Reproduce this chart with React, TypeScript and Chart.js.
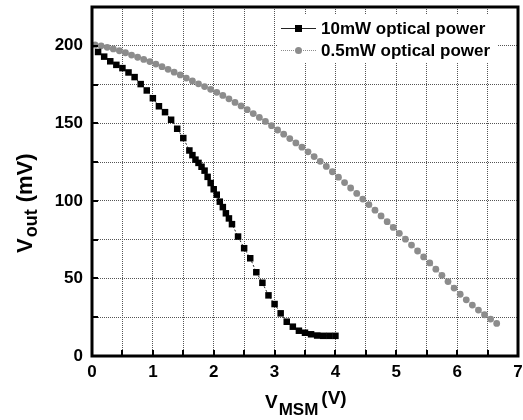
import { useEffect, useRef } from 'react';
import { Chart, registerables } from 'chart.js';
Chart.register(...registerables);

// 10 mW optical power (black squares)
const xHigh = [0.1, 0.2, 0.3, 0.4, 0.5, 0.6, 0.7, 0.8, 0.9, 1.0, 1.1, 1.2, 1.3, 1.4, 1.5,
  1.6, 1.65, 1.7, 1.75, 1.8, 1.85, 1.9, 1.95, 2.0, 2.05, 2.1, 2.15, 2.2, 2.25, 2.3,
  2.4, 2.5, 2.6, 2.7, 2.8, 2.9, 3.0, 3.1, 3.2, 3.3, 3.4, 3.5, 3.6, 3.7, 3.8, 3.9, 4.0];
const yHigh = [196, 193, 190, 187.7, 185.6, 182.8, 179.8, 175.3, 171.2, 166.2, 161, 157.2, 152.3, 146.5, 140.5,
  132.5, 129.5, 126.6, 124.5, 122, 119.5, 115.5, 111.5, 107.5, 104, 99.5, 96, 92, 88.7, 85,
  77, 69.5, 63, 54, 47.2, 39.1, 33.5, 27.5, 22.1, 18.9, 16.3, 15, 14, 13.2, 13, 13, 13];

// 0.5 mW optical power (grey circles)
const xLow = [0.05, 0.15, 0.25, 0.35, 0.45, 0.55, 0.65, 0.75, 0.85, 0.95,
  1.05, 1.15, 1.25, 1.35, 1.45, 1.55, 1.65, 1.75, 1.85, 1.95,
  2.05, 2.15, 2.25, 2.35, 2.45, 2.55, 2.65, 2.75, 2.85, 2.95,
  3.05, 3.15, 3.25, 3.35, 3.45, 3.55, 3.65, 3.75, 3.85, 3.95,
  4.05, 4.15, 4.25, 4.35, 4.45, 4.55, 4.65, 4.75, 4.85, 4.95,
  5.05, 5.15, 5.25, 5.35, 5.45, 5.55, 5.65, 5.75, 5.85, 5.95,
  6.05, 6.15, 6.25, 6.35, 6.45, 6.55, 6.65];
const yLow = [200.5, 200, 199, 198, 196.8, 195.5, 194, 192.6, 191.2, 189.8,
  188.2, 186.5, 184.8, 183, 181.2, 179.2, 177.3, 175.5, 173.7, 171.9,
  170, 168, 165.8, 163.5, 161.2, 158.8, 156.3, 153.8, 151.2, 148.5,
  145.7, 143, 140.2, 137.4, 134.6, 131.6, 128.6, 125.5, 122.2, 118.8,
  115.3, 111.8, 108.3, 104.8, 101.2, 97.6, 94, 90.3, 86.6, 82.9,
  79.1, 75.3, 71.5, 67.7, 63.9, 60, 56, 52, 48, 43.8,
  39.8, 36.2, 32.8, 29.6, 26.6, 23.8, 21];

const xTickLabels = ['0', '1', '2', '3', '4', '5', '6', '7'];
const yTickLabels = ['0', '50', '100', '150', '200'];
const legendLabels = ['10mW optical power', '0.5mW optical power'];

const FONT = "'Liberation Sans', Arial, Helvetica, sans-serif";
const GREY = '#8c8c8c';

export default function App() {
  const ref = useRef<HTMLCanvasElement>(null);

  useEffect(() => {
    const canvas = ref.current!;
    const decor = {
      id: 'decor',
      afterDatasetsDraw(chart: any) {
        const { ctx, chartArea: a, scales } = chart;
        ctx.save();
        // inward ticks
        ctx.strokeStyle = '#000';
        ctx.lineWidth = 2;
        scales.x.ticks.forEach((t: any) => {
          const px = Math.round(scales.x.getPixelForValue(t.value));
          ctx.beginPath();
          ctx.moveTo(px, a.bottom);
          ctx.lineTo(px, a.bottom - 6);
          ctx.stroke();
        });
        scales.y.ticks.forEach((t: any) => {
          const py = Math.round(scales.y.getPixelForValue(t.value));
          ctx.beginPath();
          ctx.moveTo(a.left, py);
          ctx.lineTo(a.left + 6, py);
          ctx.stroke();
        });
        // frame
        ctx.lineWidth = 3;
        ctx.strokeRect(a.left, a.top, a.right - a.left, a.bottom - a.top);

        // legend
        ctx.fillStyle = '#fff';
        ctx.fillRect(277, 15, 221, 47);
        const rows = [28, 50];
        ctx.lineWidth = 1;
        ctx.strokeStyle = '#222';
        ctx.beginPath();
        ctx.moveTo(281, rows[0] + 0.5);
        ctx.lineTo(316, rows[0] + 0.5);
        ctx.stroke();
        ctx.fillStyle = '#000';
        ctx.fillRect(295, rows[0] - 3, 7, 7);
        ctx.strokeStyle = GREY;
        ctx.setLineDash([1, 1]);
        ctx.beginPath();
        ctx.moveTo(281, rows[1] + 0.5);
        ctx.lineTo(316, rows[1] + 0.5);
        ctx.stroke();
        ctx.setLineDash([]);
        ctx.fillStyle = GREY;
        ctx.beginPath();
        ctx.arc(298.5, rows[1] + 0.5, 3.5, 0, Math.PI * 2);
        ctx.fill();
        ctx.fillStyle = '#000';
        ctx.font = `bold 17px ${FONT}`;
        ctx.textAlign = 'left';
        ctx.textBaseline = 'middle';
        ctx.fillText(legendLabels[0], 321, rows[0] + 1);
        ctx.fillText(legendLabels[1], 321, rows[1] + 1);

        // x title: V_MSM (V)
        ctx.textBaseline = 'alphabetic';
        ctx.font = `bold 19px ${FONT}`;
        ctx.fillText('V', 265, 408);
        const wV = ctx.measureText('V').width;
        ctx.font = `bold 17px ${FONT}`;
        ctx.fillText('MSM', 265 + wV + 1, 415);
        const wM = ctx.measureText('MSM').width;
        ctx.font = `bold 19px ${FONT}`;
        ctx.fillText('(V)', 265 + wV + wM + 4, 404);

        // y title: V_out (mV)
        ctx.save();
        ctx.translate(32, 253);
        ctx.rotate(-Math.PI / 2);
        ctx.font = `bold 22px ${FONT}`;
        ctx.fillText('V', 0, 0);
        const wV2 = ctx.measureText('V').width;
        ctx.font = `bold 18px ${FONT}`;
        ctx.fillText('out', wV2 + 1, 5);
        const wO = ctx.measureText('out').width;
        ctx.font = `bold 22px ${FONT}`;
        ctx.fillText('(mV)', wV2 + wO + 8, 0);
        ctx.restore();

        ctx.restore();
      },
    };

    const chart = new Chart(canvas, {
      type: 'line',
      data: {
        datasets: [
          {
            label: legendLabels[0],
            data: xHigh.map((x, i) => ({ x, y: yHigh[i] })),
            borderColor: '#222',
            borderWidth: 1,
            borderDash: [2, 2],
            pointStyle: 'rect',
            pointRadius: 4.6,
            pointBackgroundColor: '#000',
            pointBorderColor: '#000',
            pointBorderWidth: 0,
            tension: 0,
          },
          {
            label: legendLabels[1],
            data: xLow.map((x, i) => ({ x, y: yLow[i] })),
            borderColor: GREY,
            borderWidth: 1,
            borderDash: [1, 1],
            pointStyle: 'circle',
            pointRadius: 3.4,
            pointBackgroundColor: GREY,
            pointBorderColor: GREY,
            pointBorderWidth: 0,
            tension: 0,
          },
        ],
      },
      options: {
        responsive: false,
        animation: false,
        devicePixelRatio: 1,
        layout: { padding: { left: 0, top: 7, right: 5, bottom: 0 } },
        plugins: { legend: { display: false }, tooltip: { enabled: false } },
        scales: {
          x: {
            type: 'linear',
            min: 0,
            max: 7,
            afterFit: (s: any) => { s.height = 64; s.paddingLeft = 0; s.paddingRight = 0; },
            ticks: {
              stepSize: 0.5,
              autoSkip: false,
              maxRotation: 0,
              padding: 6,
              color: '#000',
              font: { family: FONT, size: 17, weight: 'bold' },
              callback: (v: any) => (xTickLabels.includes(String(v)) ? String(v) : ''),
            },
            grid: { color: '#555', lineWidth: 1, drawTicks: false },
            border: { display: false, dash: [1, 1] },
          },
          y: {
            type: 'linear',
            min: 0,
            max: 225,
            afterFit: (s: any) => { s.width = 92; s.paddingTop = 0; s.paddingBottom = 0; },
            ticks: {
              stepSize: 25,
              autoSkip: false,
              padding: 9,
              color: '#000',
              font: { family: FONT, size: 17, weight: 'bold' },
              callback: (v: any) => (yTickLabels.includes(String(v)) ? String(v) : ''),
            },
            grid: { color: '#555', lineWidth: 1, drawTicks: false },
            border: { display: false, dash: [1, 1] },
          },
        },
      },
      plugins: [decor],
    });
    return () => chart.destroy();
  }, []);

  return (
    <div style={{ position: 'fixed', left: 0, top: 0, width: 523, height: 420, background: '#fff' }}>
      <canvas ref={ref} width={523} height={420} style={{ width: 523, height: 420, display: 'block' }} />
    </div>
  );
}
